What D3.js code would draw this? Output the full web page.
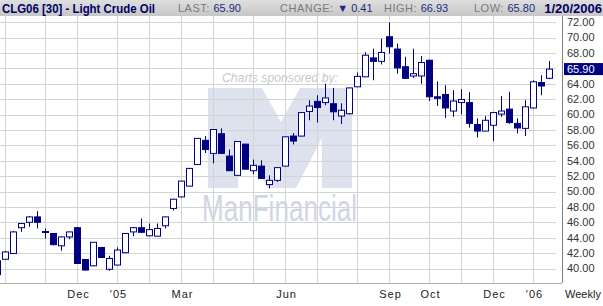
<!DOCTYPE html>
<html>
<head>
<meta charset="utf-8">
<script src="https://cdn.jsdelivr.net/npm/d3@7"></script>
<style>
  body { margin: 0; background: #fff; }
  svg { display: block; font-family: Arial, "Liberation Sans", sans-serif; }
</style>
</head>
<body>
<div id="chart"></div>
<script>
// week ending dates (Fridays)
var dates = [
  "2004-09-24","2004-10-01","2004-10-08","2004-10-15","2004-10-22","2004-10-29",
  "2004-11-05","2004-11-12","2004-11-19","2004-11-26",
  "2004-12-03","2004-12-10","2004-12-17","2004-12-24","2004-12-31",
  "2005-01-07","2005-01-14","2005-01-21","2005-01-28",
  "2005-02-04","2005-02-11","2005-02-18","2005-02-25",
  "2005-03-04","2005-03-11","2005-03-18","2005-03-25",
  "2005-04-01","2005-04-08","2005-04-15","2005-04-22","2005-04-29",
  "2005-05-06","2005-05-13","2005-05-20","2005-05-27",
  "2005-06-03","2005-06-10","2005-06-17","2005-06-24",
  "2005-07-01","2005-07-08","2005-07-15","2005-07-22","2005-07-29",
  "2005-08-05","2005-08-12","2005-08-19","2005-08-26",
  "2005-09-02","2005-09-09","2005-09-16","2005-09-23","2005-09-30",
  "2005-10-07","2005-10-14","2005-10-21","2005-10-28",
  "2005-11-04","2005-11-11","2005-11-18","2005-11-25",
  "2005-12-02","2005-12-09","2005-12-16","2005-12-23","2005-12-30",
  "2006-01-06","2006-01-13","2006-01-20"
];
var opens = [
  41.0, 41.2, 41.95, 45.3, 46.0, 46.7, 44.8, 44.55, 42.95, 44.1,
  45.3, 41.17, 40.35, 42.73, 39.9, 40.45, 42.05, 44.75, 45.3, 44.25,
  44.2, 45.55, 47.8, 49.3, 50.7, 53.5, 56.65, 54.95, 57.5, 54.6,
  52.1, 56.15, 52.7, 53.3, 50.9, 51.45, 53.3, 57.2, 57.2, 60.4,
  61.7, 61.55, 61.4, 59.8, 60.1, 63.6, 64.9, 67.35, 66.9, 70.1,
  68.5, 66.2, 65.0, 65.0, 67.05, 62.3, 62.6, 60.45, 61.55, 61.55,
  58.7, 57.85, 58.6, 60.05, 60.7, 58.85, 58.2, 60.85, 64.15, 64.7
];
var highs = [
  41.5, 42.3, 44.85, 45.9, 46.8, 47.45, 45.2, 44.6, 44.15, 44.8,
  45.35, 41.2, 43.4, 42.75, 41.65, 42.75, 44.55, 45.4, 46.5, 45.85,
  45.85, 46.75, 49.05, 51.4, 53.05, 56.95, 57.2, 58.1, 58.2, 55.45,
  56.55, 56.2, 54.15, 54.05, 52.1, 53.15, 57.15, 57.6, 60.3, 61.85,
  62.5, 64.0, 63.45, 61.45, 63.5, 65.45, 68.1, 68.55, 69.85, 71.95,
  69.2, 67.5, 68.55, 67.6, 67.1, 64.3, 63.8, 63.15, 63.3, 62.9,
  59.5, 59.8, 60.35, 62.4, 62.95, 59.5, 61.85, 64.45, 65.1, 66.95
];
var lows = [
  38.8, 41.1, 41.9, 44.75, 45.4, 45.2, 43.9, 43.0, 42.3, 43.8,
  40.6, 39.75, 40.3, 41.4, 39.7, 40.4, 42.0, 44.2, 44.6, 44.2,
  44.15, 45.2, 47.55, 49.25, 50.65, 53.45, 55.0, 53.65, 54.9, 52.65,
  52.05, 52.85, 52.25, 51.65, 50.4, 51.25, 53.25, 56.1, 57.15, 59.25,
  58.95, 61.2, 59.25, 58.75, 60.0, 63.55, 64.85, 64.45, 66.5, 67.9,
  65.3, 64.65, 64.75, 64.0, 61.75, 61.1, 59.55, 59.7, 60.0, 58.3,
  57.0, 57.8, 56.55, 59.7, 58.8, 57.55, 57.2, 60.8, 62.5, 64.6
];
var closes = [
  39.2, 42.15, 44.75, 45.85, 46.7, 46.0, 44.7, 43.1, 44.1, 44.75,
  40.65, 39.8, 43.4, 41.43, 41.3, 42.4, 44.55, 45.3, 44.7, 45.05,
  45.2, 46.7, 49.0, 51.35, 53.0, 56.9, 55.45, 58.05, 54.95, 52.7,
  56.5, 52.9, 53.4, 51.7, 51.45, 53.1, 57.1, 56.55, 60.25, 61.1,
  60.9, 62.15, 60.35, 60.55, 63.45, 64.95, 67.7, 66.9, 68.05, 68.8,
  66.05, 64.7, 65.3, 66.75, 62.3, 62.1, 60.85, 61.75, 61.95, 58.85,
  57.85, 59.25, 60.25, 60.45, 58.95, 58.25, 61.0, 64.25, 63.7, 65.9
];

// first weekly bar of each month -> vertical grid
var monthLines = [
  "2004-10-01","2004-11-05","2004-12-03","2005-01-07","2005-02-04","2005-03-04",
  "2005-04-01","2005-05-06","2005-06-03","2005-07-01","2005-08-05","2005-09-02",
  "2005-10-07","2005-11-04","2005-12-02","2006-01-06"
];
var xTickDates = ["2004-12-03","2005-01-07","2005-03-04","2005-06-03","2005-09-02","2005-10-07","2005-12-02","2006-01-06"];
var xTickLabels = ["Dec","'05","Mar","Jun","Sep","Oct","Dec","'06"];
var yTicks = [40,42,44,46,48,50,52,54,56,58,60,62,64,66,68,70,72];

var headerItems = [
  {label: "LAST:", value: "65.90", x: 178},
  {label: "CHANGE:", value: "\u25BC 0.41", x: 280},
  {label: "HIGH:", value: "66.93", x: 384},
  {label: "LOW:", value: "65.80", x: 474}
];

var W = 603, H = 306;
var navy = "#000080";
var gridColor = "#d4d4d4";
var parse = d3.timeParse("%Y-%m-%d");

var data = dates.map(function(d, i) {
  return {date: parse(d), open: opens[i], high: highs[i], low: lows[i], close: closes[i]};
});

var x = d3.scaleTime()
  .domain([parse("2004-10-01"), parse("2006-01-20")])
  .range([5.5, 549.5]);
var y = d3.scaleLinear().domain([40, 72]).range([268.5, 22.1]);

var plotLeft = 0, plotRight = 556, plotTop = 16, plotBottom = 283;

var svg = d3.select("#chart").append("svg")
  .attr("width", W).attr("height", H);

var defs = svg.append("defs");
var grad = defs.append("linearGradient").attr("id", "hdr")
  .attr("x1", 0).attr("y1", 0).attr("x2", 0).attr("y2", 1);
grad.append("stop").attr("offset", "0%").attr("stop-color", "#dedede");
grad.append("stop").attr("offset", "100%").attr("stop-color", "#c6c6c6");
defs.append("clipPath").attr("id", "plotclip").append("rect")
  .attr("x", plotLeft).attr("y", plotTop)
  .attr("width", plotRight - plotLeft).attr("height", plotBottom - plotTop);

svg.append("rect").attr("width", W).attr("height", H).attr("fill", "#fff");

// watermark
var wm = svg.append("g");
wm.append("text")
  .attr("x", 222).attr("y", 82)
  .attr("font-size", 13).attr("font-style", "italic")
  .attr("fill", "#c4c8d0")
  .attr("textLength", 116).attr("lengthAdjust", "spacingAndGlyphs")
  .text("Charts sponsored by:");
wm.append("path")
  .attr("d", "M208,88 H262 L281,122 L300,88 H352 V188 H322 V138 L296,188 H268 L238,138 V188 H208 Z")
  .attr("fill", "#dde2ee");
wm.append("text")
  .attr("x", 202).attr("y", 221)
  .attr("font-size", 37)
  .attr("fill", "#d0d6e4")
  .attr("textLength", 155).attr("lengthAdjust", "spacingAndGlyphs")
  .text("ManFinancial");

// grid
var grid = svg.append("g");
grid.selectAll(".hg").data(yTicks).enter().append("line")
  .attr("x1", plotLeft).attr("x2", plotRight)
  .attr("y1", function(d) { return Math.round(y(d)) + 0.5; })
  .attr("y2", function(d) { return Math.round(y(d)) + 0.5; })
  .attr("stroke", gridColor);
grid.selectAll(".vg").data(monthLines).enter().append("line")
  .attr("x1", function(d) { return x(parse(d)); })
  .attr("x2", function(d) { return x(parse(d)); })
  .attr("y1", plotTop).attr("y2", plotBottom)
  .attr("stroke", gridColor);

// candles
var candles = svg.append("g").attr("clip-path", "url(#plotclip)")
  .selectAll(".c").data(data).enter().append("g");
candles.append("line")
  .attr("x1", function(d) { return x(d.date); })
  .attr("x2", function(d) { return x(d.date); })
  .attr("y1", function(d) { return y(d.high); })
  .attr("y2", function(d) { return y(d.low); })
  .attr("stroke", navy);
candles.append("rect")
  .attr("x", function(d) { return x(d.date) - 3; })
  .attr("width", 6)
  .attr("y", function(d) { return y(Math.max(d.open, d.close)); })
  .attr("height", function(d) { return Math.max(1, Math.abs(y(d.open) - y(d.close))); })
  .attr("fill", function(d) { return d.close >= d.open ? "#fff" : navy; })
  .attr("stroke", navy);

// axes
svg.append("line")
  .attr("x1", 0).attr("x2", 562).attr("y1", plotBottom + 0.5).attr("y2", plotBottom + 0.5)
  .attr("stroke", "#b0b0b0");
svg.append("line")
  .attr("x1", 562.5).attr("x2", 562.5).attr("y1", plotTop).attr("y2", plotBottom)
  .attr("stroke", "#808080");

svg.append("g").selectAll("text").data(yTicks).enter().append("text")
  .attr("x", 567).attr("y", function(d) { return y(d); })
  .attr("dy", "0.36em")
  .attr("font-size", 11).attr("fill", "#333")
  .text(function(d) { return d3.format(".2f")(d); });

svg.append("g").selectAll("text").data(xTickDates).enter().append("text")
  .attr("x", function(d) { return x(parse(d)) + 1; })
  .attr("y", 298)
  .attr("text-anchor", "middle")
  .attr("font-size", 11).attr("letter-spacing", "1px").attr("fill", "#222")
  .text(function(d, i) { return xTickLabels[i]; });
svg.append("text")
  .attr("x", 583).attr("y", 298).attr("text-anchor", "middle")
  .attr("font-size", 11).attr("fill", "#222")
  .text("Weekly");

// last price marker
var last = data[data.length - 1];
svg.append("rect")
  .attr("x", 564).attr("y", y(last.close) - 6)
  .attr("width", 39).attr("height", 12)
  .attr("fill", navy);
svg.append("text")
  .attr("x", 567).attr("y", y(last.close)).attr("dy", "0.36em")
  .attr("font-size", 11).attr("fill", "#fff")
  .text(d3.format(".2f")(last.close));

// header bar
svg.append("rect").attr("x", 0).attr("y", 0).attr("width", W).attr("height", 16)
  .attr("fill", "url(#hdr)");
svg.append("text")
  .attr("x", 2).attr("y", 12.5)
  .attr("font-size", 12.5).attr("font-weight", "bold").attr("fill", "#000066")
  .attr("textLength", 153).attr("lengthAdjust", "spacingAndGlyphs")
  .text("CLG06 [30] - Light Crude Oil");
var hi = svg.append("g").selectAll("text").data(headerItems).enter().append("text")
  .attr("x", function(d) { return d.x; }).attr("y", 12)
  .attr("font-size", 11);
hi.append("tspan").attr("fill", "#7a7a7a").attr("letter-spacing", "0.5px")
  .text(function(d) { return d.label + " "; });
hi.append("tspan").attr("fill", "#1e2a80")
  .text(function(d) { return d.value; });
svg.append("text")
  .attr("x", 602).attr("y", 12.5).attr("text-anchor", "end")
  .attr("font-size", 13).attr("font-weight", "bold").attr("fill", "#000066")
  .text("1/20/2006");
</script>
</body>
</html>
